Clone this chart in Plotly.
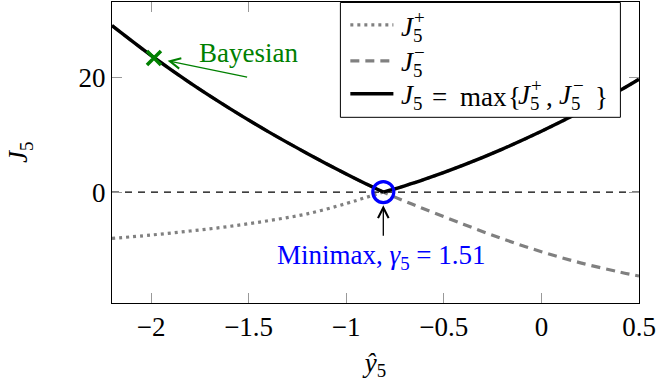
import plotly.graph_objects as go

# Prediction grid and the two one-sided costs
y_hat = [-2.2, -2.0, -1.8, -1.6, -1.4, -1.2, -1.0, -0.9, -0.81,
         -0.7, -0.6, -0.4, -0.2, 0.0, 0.2, 0.4, 0.5]
j_plus = [-8.1, -7.5, -6.8, -6.0, -5.0, -3.8, -2.0, -0.95, 0.0,
          1.1, 2.2, 4.7, 7.5, 10.6, 14.0, 17.7, 19.7]
j_minus = [29.05, 23.85, 19.05, 14.65, 10.55, 6.75, 3.15, 1.45, 0.0,
           -1.6, -2.95, -5.6, -8.15, -10.4, -12.35, -13.95, -14.65]

# Highlighted solutions
bayes_x, bayes_y = -1.985, 23.4
minimax_x, minimax_y = -0.81, 0.0
gamma_5 = 1.51

x_ticks = [-2, -1.5, -1, -0.5, 0, 0.5]
y_ticks = [0, 20]

# J5 = max{J5+, J5-}, split at the crossing so the kink stays sharp
j_max = [max(a, b) for a, b in zip(j_plus, j_minus)]
left = [i for i in range(len(y_hat)) if j_minus[i] >= j_plus[i]]
right = [i for i in range(len(y_hat)) if j_plus[i] >= j_minus[i]]

FONT = "Liberation Serif"
FS = 27
SUP = 19
GREEN = "#008000"
BLUE = "#0000ff"
GRAY = "#808080"
DOT = "3px,4px"
DASH = "9px,6px"

W, H = 657, 385
ML, MR, MT, MB = 112, 15, 1, 82
PW, PH = W - ML - MR, H - MT - MB


def px(x):
    return (x - ML) / PW


def py(y):
    return 1 - (y - MT) / PH


fig = go.Figure()

fig.add_trace(go.Scatter(
    x=[y_hat[0], y_hat[-1]], y=[0, 0], mode="lines",
    line=dict(color="black", width=1.3, dash="7px,6px"),
    showlegend=False, hoverinfo="skip"))

fig.add_trace(go.Scatter(
    x=y_hat, y=j_plus, mode="lines", line_shape="spline",
    line=dict(color=GRAY, width=3.2, dash=DOT),
    name="J5+", showlegend=False))

fig.add_trace(go.Scatter(
    x=y_hat, y=j_minus, mode="lines", line_shape="spline",
    line=dict(color=GRAY, width=3.2, dash=DASH),
    name="J5-", showlegend=False))

for idx in (left, right):
    fig.add_trace(go.Scatter(
        x=[y_hat[i] for i in idx], y=[j_max[i] for i in idx],
        mode="lines", line_shape="spline",
        line=dict(color="black", width=3.4),
        name="J5", showlegend=False))

fig.add_trace(go.Scatter(
    x=[bayes_x], y=[bayes_y], mode="markers",
    marker=dict(symbol="x-thin", size=14,
                line=dict(color=GREEN, width=3.5)),
    showlegend=False))

fig.add_trace(go.Scatter(
    x=[minimax_x], y=[minimax_y], mode="markers",
    marker=dict(symbol="circle-open", size=21, color=BLUE,
                line=dict(color=BLUE, width=3.2)),
    showlegend=False))

# Arrows and labels
fig.add_annotation(x=-1.915, y=22.9, ax=-1.5, ay=20.0, axref="x", ayref="y",
                   text="", showarrow=True, arrowhead=5, arrowsize=1.6,
                   arrowwidth=1.3, arrowcolor=GREEN)
fig.add_annotation(x=-1.5, y=24.2, text="Bayesian", showarrow=False,
                   font=dict(family=FONT, size=FS, color=GREEN))

fig.add_annotation(x=minimax_x, y=-2.3, ax=minimax_x, ay=-7.9,
                   axref="x", ayref="y", text="", showarrow=True,
                   arrowhead=5, arrowsize=1.6, arrowwidth=1.3,
                   arrowcolor="black")
fig.add_annotation(x=-0.818, y=-11.4,
                   text=f"Minimax, <i>\u03b3</i><sub>5</sub> = {gamma_5:.2f}",
                   showarrow=False, font=dict(family=FONT, size=FS, color=BLUE))

# Legend box with stacked sub/superscripts
shapes = [dict(type="rect", xref="paper", yref="paper", layer="above",
               x0=px(341.7), x1=px(623.3), y0=py(116.7), y1=py(1.5),
               line=dict(color="black", width=1), fillcolor="white")]
rows = [(24, dict(color=GRAY, width=3.2, dash=DOT)),
        (60, dict(color=GRAY, width=3.2, dash=DASH)),
        (93, dict(color="black", width=3.4))]
for ry, ln in rows:
    shapes.append(dict(type="line", xref="paper", yref="paper", layer="above",
                       x0=px(351.7), x1=px(395), y0=py(ry), y1=py(ry), line=ln))
fig.update_layout(shapes=shapes)

J5 = "<i>J</i><sub>5</sub>"


def place_text(x, y, text, size=FS, anchor="left", angle=0):
    fig.add_annotation(xref="paper", yref="paper", x=px(x), y=py(y),
                       xanchor=anchor, yanchor="middle", text=text,
                       showarrow=False, borderpad=0, textangle=angle,
                       font=dict(family=FONT, size=size, color="black"))


place_text(402, 28, J5)
place_text(421, 17, "+", SUP, "center")
place_text(402, 63, J5)
place_text(421, 52, "\u2212", SUP, "center")
place_text(402, 96, J5)
place_text(433, 96, "=")
place_text(461, 96, "max")
place_text(509, 96, "{")
place_text(519, 96, J5)
place_text(539, 85, "+", SUP, "center")
place_text(547, 96, ",")
place_text(561, 96, J5)
place_text(581, 85, "\u2212", SUP, "center")
place_text(597, 96, "}")

# y-axis title, rotated
place_text(19, 152, "<i>J</i><sub>5</sub>", FS, "center", -90)

axis_common = dict(
    showline=True, linecolor="black", linewidth=1, mirror="allticks",
    ticks="inside", ticklen=10, tickcolor="#999999", tickwidth=1,
    showgrid=False, zeroline=False, ticklabeloverflow="allow",
    tickfont=dict(family=FONT, size=FS, color="black"),
)

fig.update_xaxes(range=[-2.2, 0.5], tickvals=x_ticks,
                 title=dict(text="<i>\u0177</i><sub>5</sub>",
                            font=dict(family=FONT, size=FS), standoff=11),
                 **axis_common)
fig.update_yaxes(range=[-19.36, 33.17], tickvals=y_ticks, **axis_common)

fig.update_layout(
    width=W, height=H,
    margin=dict(l=ML, r=MR, t=MT, b=MB),
    paper_bgcolor="white", plot_bgcolor="white",
    font=dict(family=FONT, size=FS, color="black"),
    showlegend=False,
)

fig.write_html("out.html")
